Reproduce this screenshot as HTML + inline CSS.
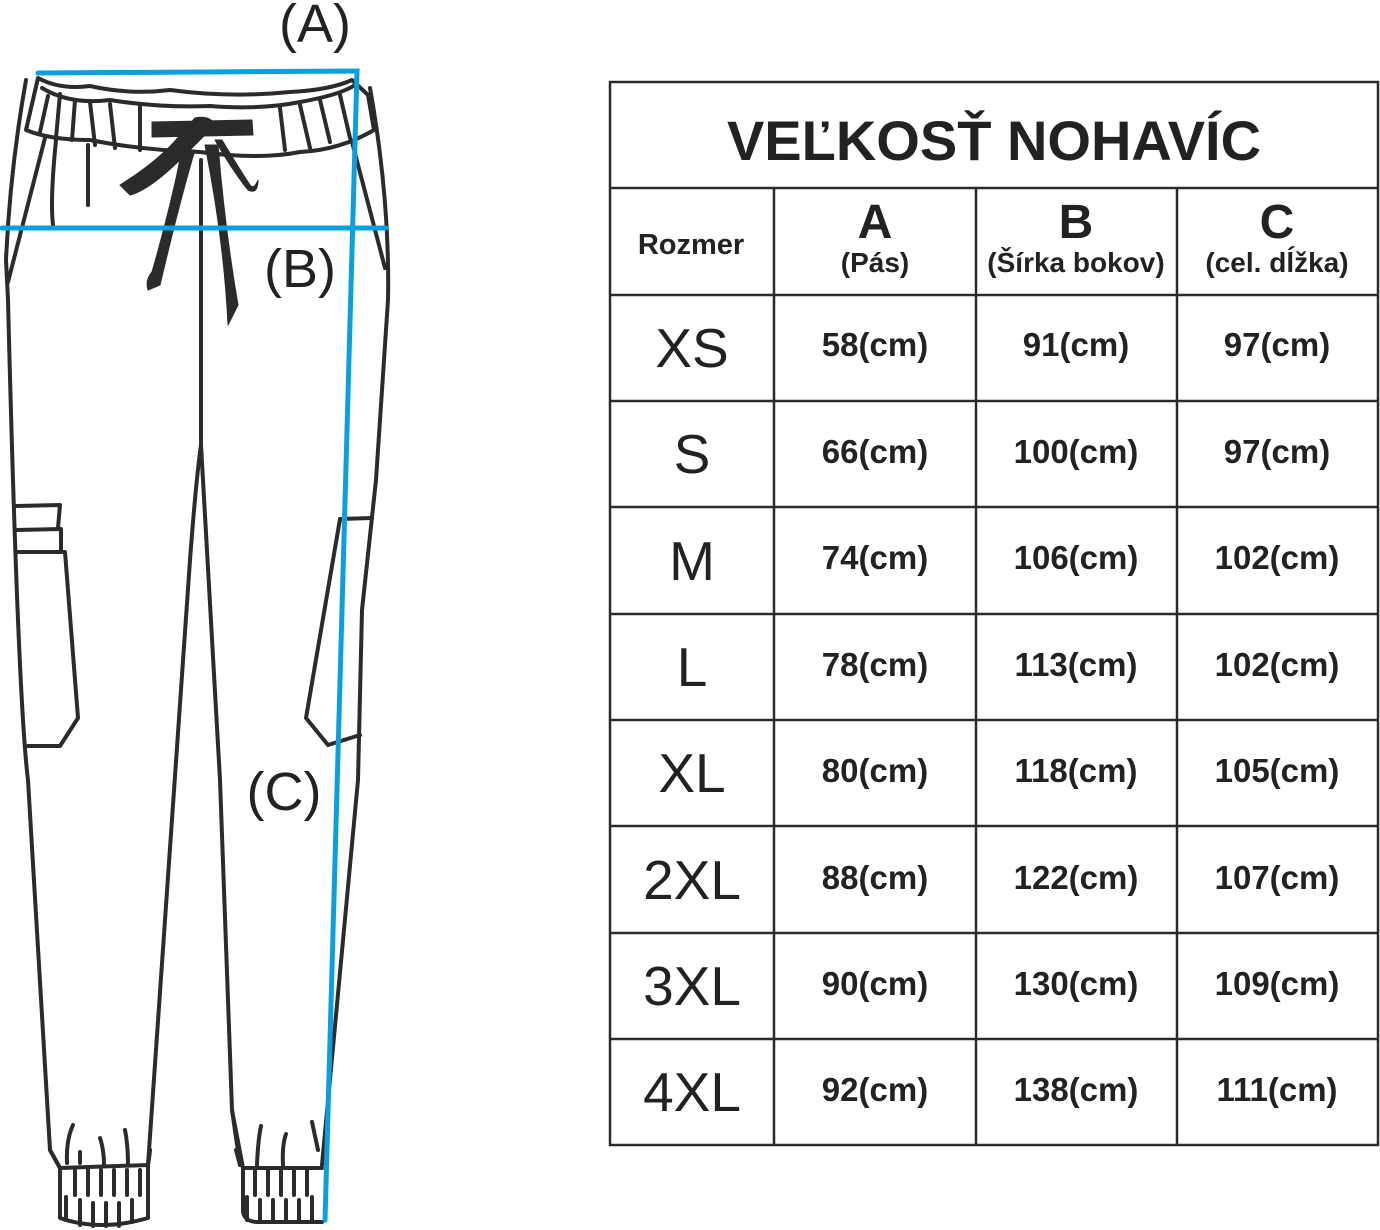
<!DOCTYPE html>
<html><head><meta charset="utf-8"><style>
html,body{margin:0;padding:0;background:#fff;}
svg{display:block;}
text{font-family:"Liberation Sans",Arial,sans-serif;fill:#222;}
</style></head><body>
<svg width="1380" height="1230" viewBox="0 0 1380 1230" xmlns="http://www.w3.org/2000/svg">
<g fill="none" stroke="#2b2b2b" stroke-width="4" stroke-linejoin="round" stroke-linecap="round">
<path d="M38,78 Q60,90 90,86 Q130,95 170,90 Q230,98 290,92 Q330,90 352,80 L368,95 L374,130 Q340,150 300,152 Q260,160 200,152 Q140,150 90,140 Q50,140 26,130 Z"/>
<path d="M42,88 Q70,105 110,100 Q160,108 210,106 Q260,110 300,102 Q340,95 355,85"/>
<path d="M48,96 L40,132 M60,94 L56,138 M75,100 L72,140 M90,102 L95,145 M110,104 L115,148 M140,104 L140,150 M280,108 L285,150 M300,105 L310,148 M320,100 L330,142 M340,95 L350,138"/>
<path d="M26,80 Q10,170 6,260 L8,300 Q18,700 28,780 L50,1150 L60,1168"/>
<path d="M370,88 Q390,200 388,300 L376,480 L362,610 L358,780 L322,1165"/>
<path d="M45,138 L8,282 M56,140 Q50,200 53,225 M352,142 Q370,210 385,268"/>
<path d="M88,145 L88,205"/>
<path d="M201,160 L201,445 Q196,480 190,560 L148,1165"/>
<path d="M201,445 Q210,600 220,780 L232,1110 L240,1165"/>
<path d="M148,1165 L150,1150 M240,1165 L236,1150"/>
<path d="M16,506 L60,505 L58,528 M16,530 L61,529 L61,551 M18,552 L65,552 L78,718 L60,746 L28,746"/>
<path d="M340,519 L372,518 M340,519 L306,718 L328,745 L360,735"/>
<path d="M50,1150 L60,1168 L148,1165 L150,1150 M60,1168 L60,1218 Q100,1232 148,1218 L148,1165"/>
<path d="M75,1170 L75,1195 M88,1170 L88,1195 M101,1170 L101,1195 M114,1170 L114,1195 M127,1170 L127,1195 M140,1170 L140,1195 M66,1197 L66,1220 M80,1200 L80,1225 M93,1203 L93,1226 M106,1203 L106,1226 M119,1203 L119,1226 M132,1200 L132,1222"/>
<path d="M67,1163 Q66,1140 73,1125 M80,1163 L80,1152 M104,1165 Q104,1150 100,1138 M128,1165 Q128,1145 125,1130"/>
<path d="M232,1110 L243,1168 L322,1168 M243,1168 L243,1212 Q245,1222 258,1222 L322,1222"/>
<path d="M255,1170 L255,1195 M268,1170 L268,1195 M281,1170 L281,1195 M294,1170 L294,1195 M307,1170 L307,1195 M247,1197 L247,1220 M260,1200 L260,1220 M273,1200 L273,1220 M286,1200 L286,1220 M299,1200 L299,1220 M312,1197 L312,1220"/>
<path d="M257,1165 Q258,1140 261,1126 M283,1165 Q282,1145 286,1134 M318,1150 L312,1122"/>
</g>
<g fill="#2b2b2b" stroke="#2b2b2b" stroke-linejoin="round">
<path d="M152,122 L252,120 L253,135 L152,137 Z"/>
<path d="M195,118 Q210,115 215,125 L185,155 Q150,190 130,195 L120,185 Q160,160 180,135 Z"/>
<path d="M182,150 L195,150 Q180,200 160,285 L148,290 Q145,280 152,272 Q170,210 182,150 Z"/>
<path d="M205,145 L218,145 Q225,230 238,305 L228,325 Q224,240 205,145 Z"/>
<path d="M215,140 L222,140 Q240,170 250,185 Q254,190 258,180 Q258,195 248,190 Q232,170 215,140 Z"/>
</g>
<g stroke="#0aa0e0" stroke-width="5" stroke-linecap="round" fill="none">
<path d="M38,73 L357,71 L325,1220"/>
<path d="M2,228 L386,228"/>
</g>
<text x="315" y="42" font-size="54" text-anchor="middle">(A)</text>
<text x="300" y="287" font-size="54" text-anchor="middle">(B)</text>
<text x="284" y="810" font-size="54" text-anchor="middle">(C)</text>

<g stroke="#2b2b2b" stroke-width="2.5" fill="none">
<rect x="610" y="82" width="768" height="1063"/>
<path d="M610,188 H1378 M610,295 H1378 M610,401 H1378 M610,507 H1378 M610,614 H1378 M610,720 H1378 M610,826 H1378 M610,933 H1378 M610,1039 H1378"/>
<path d="M774,188 V1145 M976,188 V1145 M1177,188 V1145"/>
</g>
<text x="994" y="160" font-size="56" font-weight="bold" text-anchor="middle">VEĽKOSŤ NOHAVÍC</text>
<text x="691" y="254" font-size="29" font-weight="bold" text-anchor="middle">Rozmer</text>
<g font-weight="bold" text-anchor="middle">
<text x="875" y="238" font-size="48">A</text><text x="875" y="272" font-size="28">(Pás)</text>
<text x="1076" y="238" font-size="48">B</text><text x="1076" y="272" font-size="28">(Šírka bokov)</text>
<text x="1277" y="238" font-size="48">C</text><text x="1277" y="272" font-size="28">(cel. dĺžka)</text>
</g>
<g font-size="55" text-anchor="middle">
<text x="692" y="367">XS</text><text x="692" y="473">S</text><text x="692" y="580">M</text><text x="692" y="686">L</text>
<text x="692" y="792">XL</text><text x="692" y="899">2XL</text><text x="692" y="1005">3XL</text><text x="692" y="1111">4XL</text>
</g>
<g font-size="33" font-weight="bold" text-anchor="middle">
<text x="875" y="356">58(cm)</text><text x="1076" y="356">91(cm)</text><text x="1277" y="356">97(cm)</text>
<text x="875" y="463">66(cm)</text><text x="1076" y="463">100(cm)</text><text x="1277" y="463">97(cm)</text>
<text x="875" y="569">74(cm)</text><text x="1076" y="569">106(cm)</text><text x="1277" y="569">102(cm)</text>
<text x="875" y="676">78(cm)</text><text x="1076" y="676">113(cm)</text><text x="1277" y="676">102(cm)</text>
<text x="875" y="782">80(cm)</text><text x="1076" y="782">118(cm)</text><text x="1277" y="782">105(cm)</text>
<text x="875" y="889">88(cm)</text><text x="1076" y="889">122(cm)</text><text x="1277" y="889">107(cm)</text>
<text x="875" y="995">90(cm)</text><text x="1076" y="995">130(cm)</text><text x="1277" y="995">109(cm)</text>
<text x="875" y="1101">92(cm)</text><text x="1076" y="1101">138(cm)</text><text x="1277" y="1101">111(cm)</text>
</g>
</svg>
</body></html>
